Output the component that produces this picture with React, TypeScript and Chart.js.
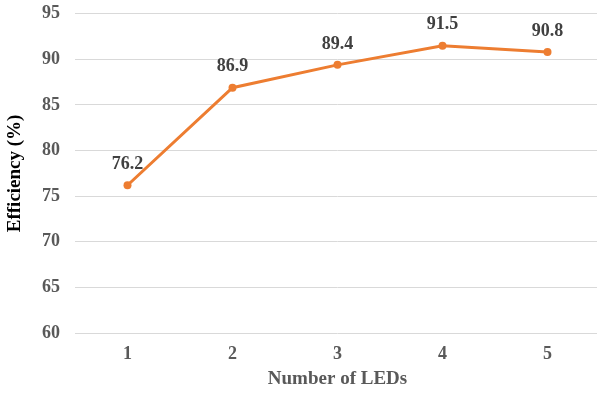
import React, { useEffect, useRef } from "react";
import { Chart, registerables } from "chart.js";

Chart.register(...registerables);

const categories = ["1", "2", "3", "4", "5"];
const efficiency = [76.2, 86.9, 89.4, 91.5, 90.8];
const yMin = 60;
const yMax = 95;
const yStep = 5;

const SERIF = "'Liberation Serif', 'Times New Roman', serif";

// Writes each point's value just above its marker
const valueLabels = {
  id: "valueLabels",
  afterDatasetsDraw(chart: any) {
    const { ctx } = chart;
    const meta = chart.getDatasetMeta(0);
    const data = chart.data.datasets[0].data as number[];
    ctx.save();
    ctx.font = `bold 18px ${SERIF}`;
    ctx.fillStyle = "#404040";
    ctx.textAlign = "center";
    ctx.textBaseline = "middle";
    meta.data.forEach((pt: any, i: number) => {
      ctx.fillText(data[i].toFixed(1), pt.x, pt.y - 21);
    });
    ctx.restore();
  },
};

export default function App() {
  const canvasRef = useRef<HTMLCanvasElement>(null);

  useEffect(() => {
    if (!canvasRef.current) return;
    const chart = new Chart(canvasRef.current, {
      type: "line",
      data: {
        labels: categories,
        datasets: [
          {
            data: efficiency,
            borderColor: "#ED7D31",
            backgroundColor: "#ED7D31",
            borderWidth: 3,
            pointRadius: 4,
            pointHoverRadius: 4,
            pointBorderWidth: 0,
            tension: 0,
          },
        ],
      },
      options: {
        animation: false,
        responsive: false,
        layout: { padding: { top: 2, right: 0, bottom: 0, left: 0 } },
        plugins: {
          legend: { display: false },
          tooltip: { enabled: false },
        },
        scales: {
          x: {
            offset: true,
            grid: { display: false, drawTicks: false },
            border: { display: false },
            ticks: {
              color: "#595959",
              font: { family: SERIF, size: 18, weight: "bold" },
              padding: 11,
            },
            title: {
              display: true,
              text: "Number of LEDs",
              color: "#595959",
              font: { family: SERIF, size: 19, weight: "bold" },
              padding: { top: 0, bottom: 4 },
            },
            afterFit(scale: any) {
              scale.height = 61;
            },
          },
          y: {
            min: yMin,
            max: yMax,
            grid: { color: "#D9D9D9", lineWidth: 1, drawTicks: false },
            border: { display: false },
            ticks: {
              stepSize: yStep,
              color: "#595959",
              font: { family: SERIF, size: 18, weight: "bold" },
              padding: 15,
            },
            title: {
              display: true,
              text: "Efficiency (%)",
              color: "#000000",
              font: { family: SERIF, size: 19, weight: "bold" },
              padding: { top: 4, bottom: 0 },
            },
            afterFit(scale: any) {
              scale.width = 75;
            },
          },
        },
      },
      plugins: [valueLabels],
    });
    return () => chart.destroy();
  }, []);

  return (
    <div style={{ position: "fixed", left: 0, top: 0, width: 597, height: 394, overflow: "hidden", background: "#fff" }}>
      <canvas
        ref={canvasRef}
        width={604}
        height={406}
        style={{ display: "block", marginTop: -12 }}
      />
    </div>
  );
}
